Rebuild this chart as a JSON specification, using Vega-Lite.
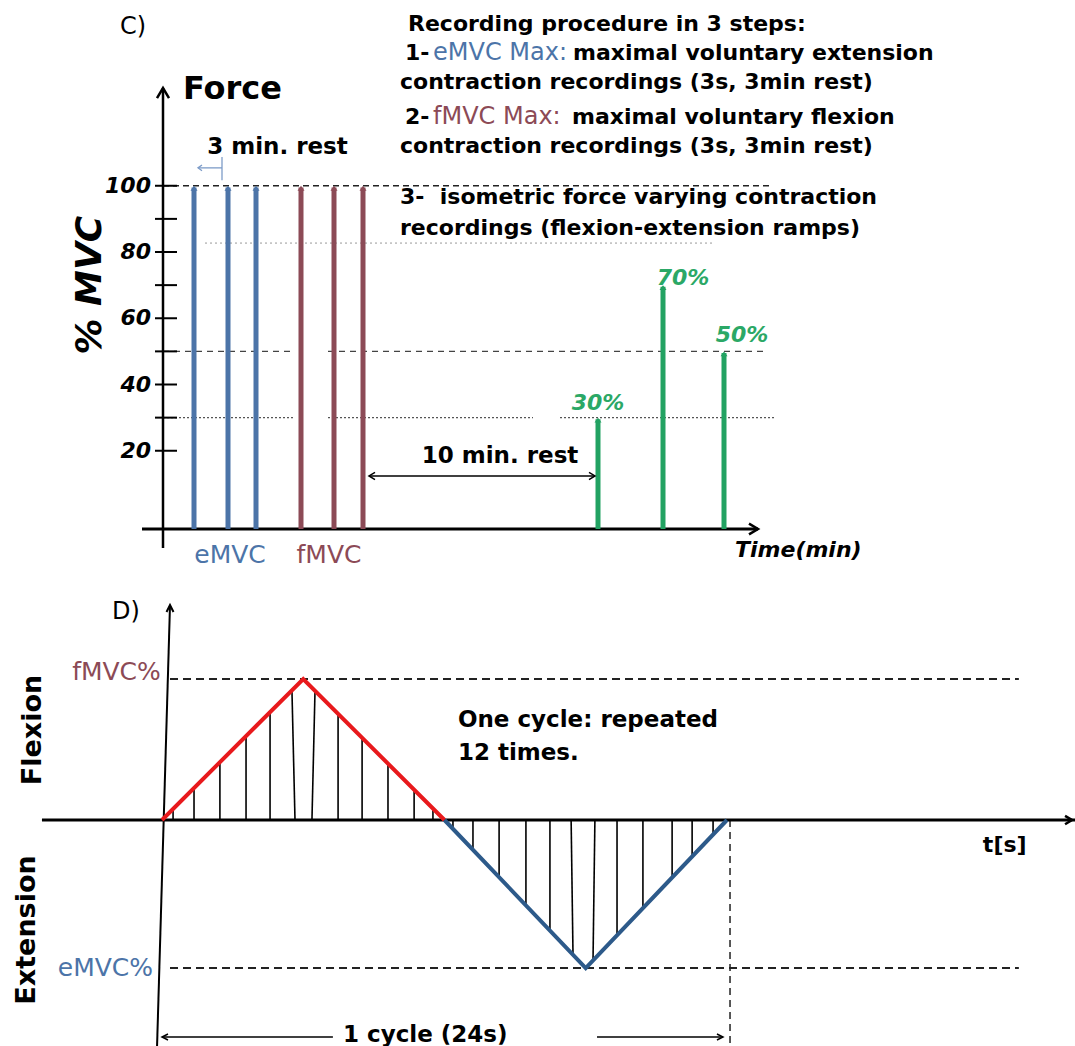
{
  "$schema": "https://vega.github.io/schema/vega-lite/v6.json",
  "padding": 0,
  "spacing": 0,
  "background": "white",
  "config": {"view": {"stroke": null}},
  "vconcat": [
    {
      "width": 1075,
      "height": 575,
      "encoding": {
        "x": {"field": "x", "type": "quantitative", "scale": {"domain": [-16.3, 91.2], "nice": false, "zero": false}, "axis": null},
        "y": {"field": "y", "type": "quantitative", "scale": {"domain": [-17.51, 156.08], "nice": false, "zero": false}, "axis": null}
      },
      "layer": [
        {
          "data": {"values": [{"x": 0, "x2": 60.7, "y": 100}]},
          "mark": {"type": "rule", "color": "#222", "strokeWidth": 1.3, "strokeDash": [6, 4]},
          "encoding": {"x2": {"field": "x2"}}
        },
        {
          "data": {"values": [{"x": 0, "x2": 12.7, "y": 50}, {"x": 16.5, "x2": 60, "y": 50}]},
          "mark": {"type": "rule", "color": "#444", "strokeWidth": 1.2, "strokeDash": [6, 5]},
          "encoding": {"x2": {"field": "x2"}}
        },
        {
          "data": {"values": [{"x": 0, "x2": 13.2, "y": 30}, {"x": 16.5, "x2": 37, "y": 30}, {"x": 39.7, "x2": 61.2, "y": 30}]},
          "mark": {"type": "rule", "color": "#555", "strokeWidth": 1.2, "strokeDash": [2, 2]},
          "encoding": {"x2": {"field": "x2"}}
        },
        {
          "data": {"values": [{"x": 4.2, "x2": 55, "y": 82.7}]},
          "mark": {"type": "rule", "color": "#999", "strokeWidth": 1, "strokeDash": [2, 3]},
          "encoding": {"x2": {"field": "x2"}}
        },
        {
          "data": {"values": [{"x": -0.8, "x2": 1.4, "y": 20}, {"x": -0.8, "x2": 1.4, "y": 30}, {"x": -0.8, "x2": 1.4, "y": 40}, {"x": -0.8, "x2": 1.4, "y": 50}, {"x": -0.8, "x2": 1.4, "y": 60}, {"x": -0.8, "x2": 1.4, "y": 70}, {"x": -0.8, "x2": 1.4, "y": 80}, {"x": -0.8, "x2": 1.4, "y": 90}, {"x": -0.8, "x2": 1.4, "y": 100}]},
          "mark": {"type": "rule", "color": "black", "strokeWidth": 2},
          "encoding": {"x2": {"field": "x2"}}
        },
        {
          "data": {"values": [{"x": 0, "y": -9.36, "y2": 129.5}]},
          "mark": {"type": "rule", "color": "black", "strokeWidth": 2.5},
          "encoding": {"y2": {"field": "y2"}}
        },
        {
          "data": {"values": [{"x": -2.1, "x2": 59.5, "y": -3.62}]},
          "mark": {"type": "rule", "color": "black", "strokeWidth": 3},
          "encoding": {"x2": {"field": "x2"}}
        },
        {
          "data": {"values": [
            {"x": 3.1, "y": -3.62, "y2": 99.5, "g": "e"},
            {"x": 6.5, "y": -3.62, "y2": 99.5, "g": "e"},
            {"x": 9.3, "y": -3.62, "y2": 99.5, "g": "e"},
            {"x": 13.8, "y": -3.62, "y2": 99.5, "g": "f"},
            {"x": 17.1, "y": -3.62, "y2": 99.5, "g": "f"},
            {"x": 20.0, "y": -3.62, "y2": 99.5, "g": "f"},
            {"x": 43.5, "y": -3.62, "y2": 29.5, "g": "g"},
            {"x": 50.0, "y": -3.62, "y2": 69.5, "g": "g"},
            {"x": 56.1, "y": -3.62, "y2": 49.5, "g": "g"}
          ]},
          "mark": {"type": "rule", "strokeWidth": 5},
          "encoding": {
            "y2": {"field": "y2"},
            "color": {"field": "g", "type": "nominal", "scale": {"domain": ["e", "f", "g"], "range": ["#4C74A8", "#8C4A56", "#22A262"]}, "legend": null}
          }
        },
        {
          "data": {"values": [
            {"x": 3.1, "y": 100, "g": "e"}, {"x": 6.5, "y": 100, "g": "e"}, {"x": 9.3, "y": 100, "g": "e"},
            {"x": 13.8, "y": 100, "g": "f"}, {"x": 17.1, "y": 100, "g": "f"}, {"x": 20.0, "y": 100, "g": "f"},
            {"x": 43.5, "y": 30, "g": "g"}, {"x": 50.0, "y": 70, "g": "g"}, {"x": 56.1, "y": 50, "g": "g"}
          ]},
          "mark": {"type": "point", "shape": "M-1,1.4L0,0L1,1.4Z", "size": 49, "filled": true, "opacity": 1},
          "encoding": {
            "color": {"field": "g", "type": "nominal", "scale": {"domain": ["e", "f", "g"], "range": ["#4C74A8", "#8C4A56", "#22A262"]}, "legend": null}
          }
        },
        {
          "data": {"values": [{"x": 20.6, "x2": 43.2, "y": 12.4}]},
          "mark": {"type": "rule", "color": "black", "strokeWidth": 1.5},
          "encoding": {"x2": {"field": "x2"}}
        },
        {
          "data": {"values": [{"x": 3.5, "x2": 5.9, "y": 105.4}]},
          "mark": {"type": "rule", "color": "#7D9CC8", "strokeWidth": 1.3},
          "encoding": {"x2": {"field": "x2"}}
        },
        {
          "data": {"values": [{"x": 5.9, "y": 101.7, "y2": 108.7}]},
          "mark": {"type": "rule", "color": "#7D9CC8", "strokeWidth": 1.3},
          "encoding": {"y2": {"field": "y2"}}
        },
        {
          "data": {"values": [{"x": 3.5, "y": 105.4}]},
          "mark": {"type": "point", "shape": "M1,-0.7L0,0L1,0.7", "size": 64, "filled": false, "color": "#7D9CC8", "strokeWidth": 1.3, "opacity": 1}
        },
        {
          "data": {"values": [{"x": 0, "y": 129.5}]},
          "mark": {"type": "point", "shape": "M-0.6,1L0,0L0.6,1", "size": 400, "filled": false, "color": "black", "strokeWidth": 2.5, "opacity": 1}
        },
        {
          "data": {"values": [{"x": 59.5, "y": -3.62}]},
          "mark": {"type": "point", "shape": "M-1,-0.6L0,0L-1,0.6", "size": 324, "filled": false, "color": "black", "strokeWidth": 2.5, "opacity": 1}
        },
        {
          "data": {"values": [{"x": 43.2, "y": 12.4}]},
          "mark": {"type": "point", "shape": "M-1,-0.6L0,0L-1,0.6", "size": 144, "filled": false, "color": "black", "strokeWidth": 1.5, "opacity": 1}
        },
        {
          "data": {"values": [{"x": 20.6, "y": 12.4}]},
          "mark": {"type": "point", "shape": "M1,-0.6L0,0L1,0.6", "size": 144, "filled": false, "color": "black", "strokeWidth": 1.5, "opacity": 1}
        },
        {
          "data": {"values": [
            {"text": "Recording procedure in 3 steps:", "x": 24.5, "y": 148.8},
            {"text": "1-", "x": 24.2, "y": 140.1},
            {"text": "maximal voluntary extension", "x": 41.0, "y": 140.1},
            {"text": "contraction recordings (3s, 3min rest)", "x": 23.7, "y": 131.3},
            {"text": "2-", "x": 24.2, "y": 120.8},
            {"text": "maximal voluntary flexion", "x": 40.9, "y": 120.8},
            {"text": "contraction recordings (3s, 3min rest)", "x": 23.7, "y": 112.0},
            {"text": "3-\u00a0 isometric force varying contraction", "x": 23.7, "y": 96.6},
            {"text": "recordings (flexion-extension ramps)", "x": 23.7, "y": 87.2}
          ]},
          "mark": {"type": "text", "font": "DejaVu Sans", "fontWeight": "bold", "fontSize": 22, "align": "left", "baseline": "middle", "color": "black"},
          "encoding": {"text": {"field": "text"}}
        },
        {
          "data": {"values": [
            {"text": "eMVC Max:", "x": 27.0, "y": 140.1, "g": "e"},
            {"text": "fMVC Max:", "x": 27.0, "y": 120.8, "g": "f"}
          ]},
          "mark": {"type": "text", "font": "DejaVu Sans", "fontSize": 24, "align": "left", "baseline": "middle"},
          "encoding": {
            "text": {"field": "text"},
            "color": {"field": "g", "type": "nominal", "scale": {"domain": ["e", "f"], "range": ["#3E679B", "#B0545C"]}, "legend": null}
          }
        },
        {
          "data": {"values": [
            {"text": "eMVC", "x": 6.7, "y": -11.5, "g": "e"},
            {"text": "fMVC", "x": 16.6, "y": -11.5, "g": "f"}
          ]},
          "mark": {"type": "text", "font": "DejaVu Sans", "fontSize": 25, "align": "center", "baseline": "middle"},
          "encoding": {
            "text": {"field": "text"},
            "color": {"field": "g", "type": "nominal", "scale": {"domain": ["e", "f"], "range": ["#3E679B", "#A0525A"]}, "legend": null}
          }
        },
        {
          "data": {"values": [{"text": "Force", "x": 2.0, "y": 129.2}]},
          "mark": {"type": "text", "font": "DejaVu Sans", "fontWeight": "bold", "fontSize": 32, "align": "left", "baseline": "middle", "color": "black"},
          "encoding": {"text": {"field": "text"}}
        },
        {
          "data": {"values": [{"text": "C)", "x": -4.3, "y": 147.9}]},
          "mark": {"type": "text", "font": "DejaVu Sans", "fontSize": 24, "align": "left", "baseline": "middle", "color": "black"},
          "encoding": {"text": {"field": "text"}}
        },
        {
          "data": {"values": [
            {"text": "3 min. rest", "x": 11.45, "y": 111.7},
            {"text": "10 min. rest", "x": 33.7, "y": 18.4}
          ]},
          "mark": {"type": "text", "font": "DejaVu Sans", "fontWeight": "bold", "fontSize": 23, "align": "center", "baseline": "middle", "color": "black"},
          "encoding": {"text": {"field": "text"}}
        },
        {
          "data": {"values": [
            {"text": "20", "x": -1.2, "y": 20}, {"text": "40", "x": -1.2, "y": 40}, {"text": "60", "x": -1.2, "y": 60},
            {"text": "80", "x": -1.2, "y": 80}, {"text": "100", "x": -1.2, "y": 100}
          ]},
          "mark": {"type": "text", "font": "DejaVu Sans", "fontWeight": "bold", "fontStyle": "italic", "fontSize": 22, "align": "right", "baseline": "middle", "color": "black"},
          "encoding": {"text": {"field": "text"}}
        },
        {
          "data": {"values": [{"text": "% MVC", "x": -7.3, "y": 70}]},
          "mark": {"type": "text", "font": "DejaVu Sans", "fontWeight": "bold", "fontStyle": "italic", "fontSize": 36, "angle": 270, "align": "center", "baseline": "middle", "color": "black"},
          "encoding": {"text": {"field": "text"}}
        },
        {
          "data": {"values": [{"text": "Time(min)", "x": 57.2, "y": -10}]},
          "mark": {"type": "text", "font": "DejaVu Sans", "fontWeight": "bold", "fontStyle": "italic", "fontSize": 22, "align": "left", "baseline": "middle", "color": "black"},
          "encoding": {"text": {"field": "text"}}
        },
        {
          "data": {"values": [
            {"text": "30%", "x": 43.5, "y": 34.4},
            {"text": "70%", "x": 52.0, "y": 72.2},
            {"text": "50%", "x": 57.9, "y": 54.9}
          ]},
          "mark": {"type": "text", "font": "DejaVu Sans", "fontWeight": "bold", "fontStyle": "italic", "fontSize": 22, "align": "center", "baseline": "middle", "color": "#2BA866"},
          "encoding": {"text": {"field": "text"}}
        }
      ]
    },
    {
      "width": 1075,
      "height": 471,
      "encoding": {
        "x": {"field": "x", "type": "quantitative", "scale": {"domain": [-6.882, 38.785], "nice": false, "zero": false}, "axis": null},
        "y": {"field": "y", "type": "quantitative", "scale": {"domain": [-160.28, 173.76], "nice": false, "zero": false}, "axis": null}
      },
      "layer": [
        {
          "data": {"values": [{"x": 0.34, "x2": 36.4, "y": 100}, {"x": 0.34, "x2": 36.4, "y": -105}]},
          "mark": {"type": "rule", "color": "#222", "strokeWidth": 2, "strokeDash": [8, 5]},
          "encoding": {"x2": {"field": "x2"}}
        },
        {
          "data": {"values": [{"x": 24.13, "y": 0, "y2": -160.28}]},
          "mark": {"type": "rule", "color": "#222", "strokeWidth": 1.5, "strokeDash": [7, 5]},
          "encoding": {"y2": {"field": "y2"}}
        },
        {
          "data": {"values": [{"x": -5.1, "x2": 38.785, "y": 0}]},
          "mark": {"type": "rule", "color": "black", "strokeWidth": 3},
          "encoding": {"x2": {"field": "x2"}}
        },
        {
          "data": {"values": [{"x": -0.21, "y": -160.28, "x2": 0.34, "y2": 152.5}]},
          "mark": {"type": "rule", "color": "black", "strokeWidth": 2},
          "encoding": {"x2": {"field": "x2"}, "y2": {"field": "y2"}}
        },
        {
          "data": {"values": [
            {"x": 0.47, "x2": 0.47, "y": 0, "y2": 7.8},
            {"x": 1.36, "x2": 1.36, "y": 0, "y2": 22.6},
            {"x": 2.46, "x2": 2.46, "y": 0, "y2": 41.1},
            {"x": 3.57, "x2": 3.57, "y": 0, "y2": 59.5},
            {"x": 4.59, "x2": 4.59, "y": 0, "y2": 76.5},
            {"x": 5.65, "x2": 5.52, "y": 0, "y2": 92.0},
            {"x": 6.37, "x2": 6.50, "y": 0, "y2": 91.7},
            {"x": 7.48, "x2": 7.48, "y": 0, "y2": 75.4},
            {"x": 8.50, "x2": 8.50, "y": 0, "y2": 58.4},
            {"x": 9.60, "x2": 9.60, "y": 0, "y2": 40.0},
            {"x": 10.71, "x2": 10.71, "y": 0, "y2": 21.6},
            {"x": 11.51, "x2": 11.51, "y": 0, "y2": 8.1},
            {"x": 12.36, "x2": 12.36, "y": 0, "y2": -6.3},
            {"x": 13.21, "x2": 13.21, "y": 0, "y2": -21.2},
            {"x": 14.32, "x2": 14.32, "y": 0, "y2": -40.5},
            {"x": 15.46, "x2": 15.46, "y": 0, "y2": -60.6},
            {"x": 16.48, "x2": 16.48, "y": 0, "y2": -78.5},
            {"x": 17.38, "x2": 17.46, "y": 0, "y2": -95.6},
            {"x": 18.39, "x2": 18.31, "y": 0, "y2": -99.6},
            {"x": 19.33, "x2": 19.33, "y": 0, "y2": -81.7},
            {"x": 20.43, "x2": 20.43, "y": 0, "y2": -62.4},
            {"x": 21.67, "x2": 21.67, "y": 0, "y2": -40.9},
            {"x": 22.52, "x2": 22.52, "y": 0, "y2": -26.0},
            {"x": 23.41, "x2": 23.41, "y": 0, "y2": -10.4}
          ]},
          "mark": {"type": "rule", "color": "black", "strokeWidth": 1.6},
          "encoding": {"x2": {"field": "x2"}, "y2": {"field": "y2"}}
        },
        {
          "data": {"values": [{"x": 0, "y": 0}, {"x": 6, "y": 100}, {"x": 12, "y": 0}]},
          "mark": {"type": "line", "color": "#E8191C", "strokeWidth": 4},
          "encoding": {}
        },
        {
          "data": {"values": [{"x": 12, "y": 0}, {"x": 18, "y": -105}, {"x": 24, "y": 0}]},
          "mark": {"type": "line", "color": "#2D5A8A", "strokeWidth": 4},
          "encoding": {}
        },
        {
          "data": {"values": [{"x": 0, "x2": 7.26, "y": -153.9}, {"x": 18.48, "x2": 23.83, "y": -153.9}]},
          "mark": {"type": "rule", "color": "black", "strokeWidth": 1.5},
          "encoding": {"x2": {"field": "x2"}}
        },
        {
          "data": {"values": [{"x": 0, "y": -153.9}]},
          "mark": {"type": "point", "shape": "M1,-0.5L0,0L1,0.5", "size": 144, "filled": false, "color": "black", "strokeWidth": 1.5, "opacity": 1}
        },
        {
          "data": {"values": [{"x": 23.83, "y": -153.9}]},
          "mark": {"type": "point", "shape": "M-1,-0.5L0,0L-1,0.5", "size": 144, "filled": false, "color": "black", "strokeWidth": 1.5, "opacity": 1}
        },
        {
          "data": {"values": [{"x": 0.34, "y": 152.5}]},
          "mark": {"type": "point", "shape": "M-0.5,1L0,0L0.5,1", "size": 196, "filled": false, "color": "black", "strokeWidth": 2, "opacity": 1}
        },
        {
          "data": {"values": [{"x": 38.66, "y": 0}]},
          "mark": {"type": "point", "shape": "M-1,-0.6L0,0L-1,0.6", "size": 196, "filled": false, "color": "black", "strokeWidth": 2.5, "opacity": 1}
        },
        {
          "data": {"values": [
            {"text": "One cycle: repeated", "x": 12.57, "y": 70.9},
            {"text": "12 times.", "x": 12.57, "y": 47.5},
            {"text": "1 cycle (24s)", "x": 7.69, "y": -152.5}
          ]},
          "mark": {"type": "text", "font": "DejaVu Sans", "fontWeight": "bold", "fontSize": 23, "align": "left", "baseline": "middle", "color": "black"},
          "encoding": {"text": {"field": "text"}}
        },
        {
          "data": {"values": [{"text": "t[s]", "x": 35.8, "y": -17.7}]},
          "mark": {"type": "text", "font": "DejaVu Sans", "fontWeight": "bold", "fontSize": 22, "align": "center", "baseline": "middle", "color": "black"},
          "encoding": {"text": {"field": "text"}}
        },
        {
          "data": {"values": [
            {"text": "Flexion", "x": -5.48, "y": 63.8},
            {"text": "Extension", "x": -5.73, "y": -78}
          ]},
          "mark": {"type": "text", "font": "DejaVu Sans", "fontWeight": "bold", "fontSize": 27, "angle": 270, "align": "center", "baseline": "middle", "color": "black"},
          "encoding": {"text": {"field": "text"}}
        },
        {
          "data": {"values": [{"text": "D)", "x": -2.12, "y": 147.5}]},
          "mark": {"type": "text", "font": "DejaVu Sans", "fontSize": 24, "align": "left", "baseline": "middle", "color": "black"},
          "encoding": {"text": {"field": "text"}}
        },
        {
          "data": {"values": [
            {"text": "fMVC%", "x": -0.05, "y": 105, "g": "f"},
            {"text": "eMVC%", "x": -0.38, "y": -105, "g": "e"}
          ]},
          "mark": {"type": "text", "font": "DejaVu Sans", "fontSize": 25, "align": "right", "baseline": "middle"},
          "encoding": {
            "text": {"field": "text"},
            "color": {"field": "g", "type": "nominal", "scale": {"domain": ["e", "f"], "range": ["#3A5F8E", "#B5565B"]}, "legend": null}
          }
        }
      ]
    }
  ]
}
